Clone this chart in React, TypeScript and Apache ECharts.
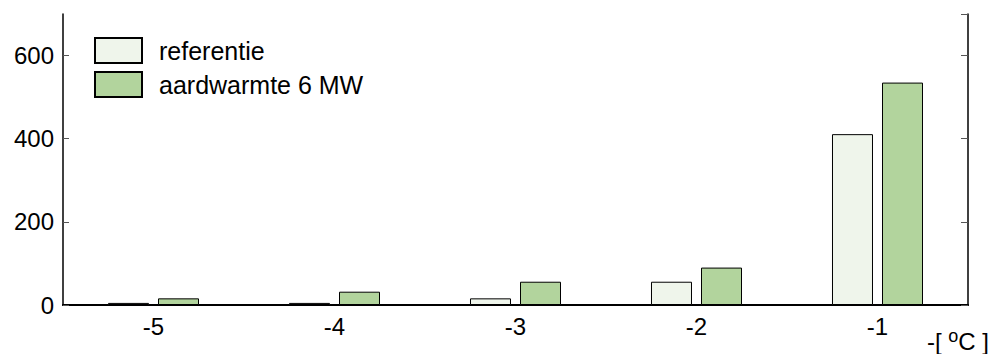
import React, { useEffect, useRef } from "react";
import * as echarts from "echarts";

const categories = ["-5", "-4", "-3", "-2", "-1"];
const referentie = [5, 5, 16, 56, 411];
const aardwarmte = [16, 32, 56, 90, 535];
const yTicks = { min: 0, max: 700, interval: 200 };

const FONT = "Liberation Sans, Arial, sans-serif";

export default function App() {
  const ref = useRef<HTMLDivElement>(null);
  useEffect(() => {
    if (!ref.current) return;
    const chart = echarts.init(ref.current, null, { renderer: "svg" });
    const tickStyle = { color: "#555", width: 1 };
    chart.setOption({
      animation: false,
      textStyle: { fontFamily: FONT },
      grid: { left: 63, right: 27, top: 14, bottom: 49 },
      legend: {
        orient: "vertical",
        left: 89,
        top: 32,
        itemWidth: 47,
        itemHeight: 25,
        itemGap: 7,
        icon: "rect",
        textStyle: { fontSize: 25, color: "#000", fontFamily: FONT, padding: [0, 0, 0, 12] },
        data: ["referentie", "aardwarmte 6 MW"],
      },
      xAxis: [
        {
          type: "category",
          data: categories,
          position: "bottom",
          axisLine: { lineStyle: { color: "#000", width: 2 } },
          axisTick: { inside: true, alignWithLabel: true, length: 9, lineStyle: tickStyle },
          axisLabel: { fontSize: 24, color: "#000", margin: 9, fontFamily: FONT },
          name: "-[ {sup|o}C ]",
          nameLocation: "end",
          nameGap: 0,
          nameTextStyle: {
            fontSize: 24,
            color: "#000",
            fontFamily: FONT,
            align: "left",
            verticalAlign: "top",
            padding: [22, 0, 0, -41],
            rich: {
              sup: { fontSize: 18, verticalAlign: "top", padding: [0, 0, 10, 0], color: "#000" },
            },
          },
        },
        {
          type: "category",
          data: categories,
          position: "top",
          axisLine: { lineStyle: { color: "#000", width: 1.5 } },
          axisTick: { inside: true, alignWithLabel: true, length: 7, lineStyle: tickStyle },
          axisLabel: { show: false },
        },
      ],
      yAxis: [
        {
          type: "value",
          ...yTicks,
          position: "left",
          splitLine: { show: false },
          axisLine: { show: true, lineStyle: { color: "#000", width: 1.5 } },
          axisTick: { show: true, inside: true, length: 6, lineStyle: tickStyle },
          axisLabel: { fontSize: 24, color: "#000", margin: 9, fontFamily: FONT, showMaxLabel: false },
        },
        {
          type: "value",
          ...yTicks,
          position: "right",
          splitLine: { show: false },
          axisLine: { show: true, lineStyle: { color: "#000", width: 1.5 } },
          axisTick: { show: true, inside: true, length: 7, lineStyle: tickStyle },
          axisLabel: { show: false },
        },
      ],
      series: [
        {
          name: "referentie",
          type: "bar",
          data: referentie,
          barWidth: 41,
          barGap: "22%",
          itemStyle: { color: "#eff5eb", borderColor: "#000", borderWidth: 1 },
        },
        {
          name: "aardwarmte 6 MW",
          type: "bar",
          data: aardwarmte,
          barWidth: 41,
          barGap: "22%",
          itemStyle: { color: "#b2d49d", borderColor: "#000", borderWidth: 1 },
        },
      ],
    });
    return () => chart.dispose();
  }, []);
  return <div ref={ref} style={{ width: 995, height: 354, position: "absolute", left: 0, top: 0 }} />;
}
